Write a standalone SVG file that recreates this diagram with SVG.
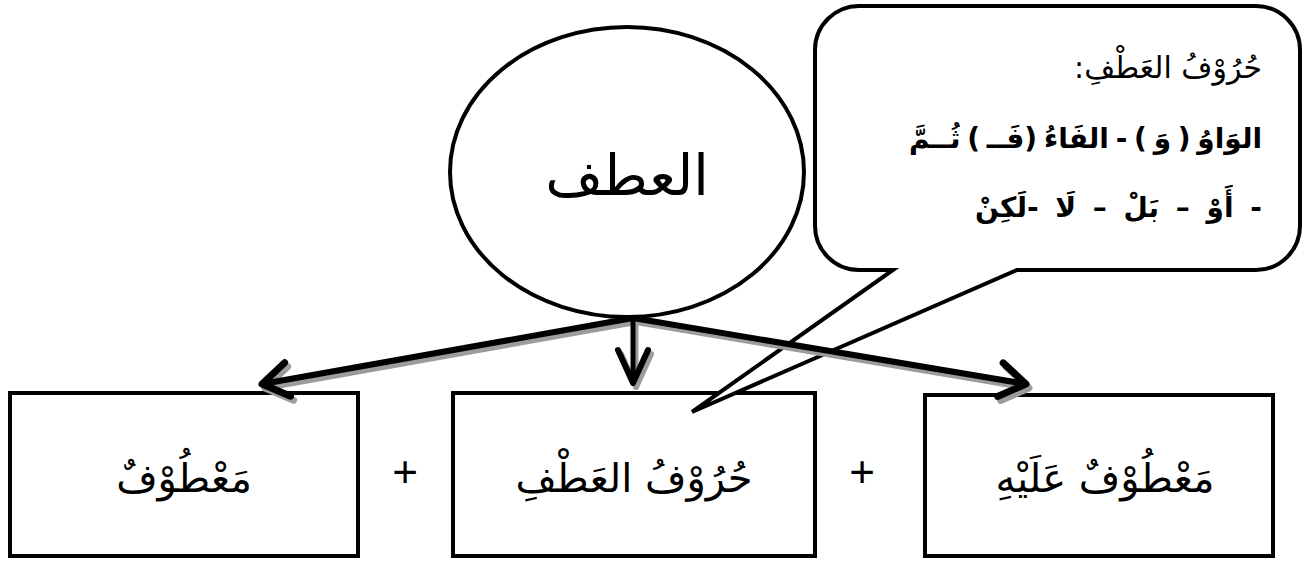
<svg xmlns="http://www.w3.org/2000/svg" width="1303" height="562" viewBox="0 0 1303 562">
<style>
.ar{font-family:"DejaVu Sans",sans-serif;fill:#000}
.box{fill:#fff;stroke:#000;stroke-width:4}
.plus{font-family:"Liberation Sans",sans-serif;font-size:44px;fill:#000}
.conn{fill:none;stroke-linecap:butt}
</style>
<defs>
<marker id="ahB" markerUnits="userSpaceOnUse" markerWidth="80" markerHeight="80" viewBox="-40 -40 80 80" refX="0" refY="0" orient="auto" overflow="visible"><path d="M-26,-17 L0,0 L-26,17" fill="none" stroke="#000" stroke-width="7" stroke-linecap="round" stroke-linejoin="round"/></marker>
<marker id="ahG" markerUnits="userSpaceOnUse" markerWidth="80" markerHeight="80" viewBox="-40 -40 80 80" refX="0" refY="0" orient="auto" overflow="visible"><path d="M-26,-17 L0,0 L-26,17" fill="none" stroke="#9c9c9c" stroke-width="7" stroke-linecap="round" stroke-linejoin="round"/></marker>
<marker id="ahBs" markerUnits="userSpaceOnUse" markerWidth="80" markerHeight="80" viewBox="-40 -40 80 80" refX="0" refY="0" orient="auto" overflow="visible"><path d="M-33,-15 L0,0 L-33,15" fill="none" stroke="#000" stroke-width="6" stroke-linecap="round" stroke-linejoin="round"/></marker>
<marker id="ahGs" markerUnits="userSpaceOnUse" markerWidth="80" markerHeight="80" viewBox="-40 -40 80 80" refX="0" refY="0" orient="auto" overflow="visible"><path d="M-33,-15 L0,0 L-33,15" fill="none" stroke="#9c9c9c" stroke-width="6" stroke-linecap="round" stroke-linejoin="round"/></marker>
</defs>
<rect width="1303" height="562" fill="#fff"/>

<g id="node-matoof">
<rect class="box" x="10" y="393" width="348" height="163"/>
<text class="ar" x="184" y="492" font-size="40" text-anchor="middle">مَعْطُوْفٌ</text>
</g>
<g id="node-huroof">
<rect class="box" x="453" y="393" width="362" height="163"/>
<text class="ar" x="634" y="492" font-size="40" text-anchor="middle">حُرُوْفُ العَطْفِ</text>
</g>
<g id="node-matoof-alaih">
<rect class="box" x="925" y="395" width="348" height="161"/>
<text class="ar" x="1105" y="492" font-size="40" text-anchor="middle">مَعْطُوْفٌ عَلَيْهِ</text>
</g>
<g id="plus-signs">
<text class="plus" x="405" y="487" text-anchor="middle">+</text>
<text class="plus" x="862" y="487" text-anchor="middle">+</text>
</g>

<g id="node-callout">
<path d="M860,6 H1256 A44,44 0 0 1 1300,50 V226 A44,44 0 0 1 1256,270 H1017 L692,412 L893,270 H859 A44,44 0 0 1 815,226 V50 A44,44 0 0 1 860,6 Z" fill="#fff" stroke="#000" stroke-width="4" stroke-linejoin="miter"/>
<text class="ar" x="1262" y="78" font-size="30" direction="rtl" text-anchor="start">حُرُوْفُ العَطْفِ:</text>
<text class="ar" x="1262" y="148" font-size="28" font-weight="bold" word-spacing="-3" direction="rtl" text-anchor="start">الوَاوُ ( وَ ) - الفَاءُ (فَــ ) ثُــمَّ</text>
<text class="ar" x="1262" y="217" font-size="28" font-weight="bold" word-spacing="7" direction="rtl" text-anchor="start">- أَوْ – بَلْ – لَا -لَكِنْ</text>
</g>

<g id="connectors">
<g transform="translate(3,4)" stroke="#9c9c9c">
<path class="conn" d="M633,318 L262,384" stroke-width="6" marker-end="url(#ahG)"/>
<path class="conn" d="M633,318 L1026,384" stroke-width="6" marker-end="url(#ahG)"/>
<path class="conn" d="M633,318 L633,383" stroke-width="5" marker-end="url(#ahGs)"/>
</g>
<g stroke="#000">
<path class="conn" d="M633,318 L262,384" stroke-width="6" marker-end="url(#ahB)"/>
<path class="conn" d="M633,318 L1026,384" stroke-width="6" marker-end="url(#ahB)"/>
<path class="conn" d="M633,318 L633,383" stroke-width="5" marker-end="url(#ahBs)"/>
</g>
</g>

<g id="node-atf">
<ellipse cx="627" cy="172" rx="177" ry="145" fill="#fff" stroke="#000" stroke-width="4"/>
<text class="ar" x="627" y="195" font-size="56" text-anchor="middle">العطف</text>
</g>
</svg>
